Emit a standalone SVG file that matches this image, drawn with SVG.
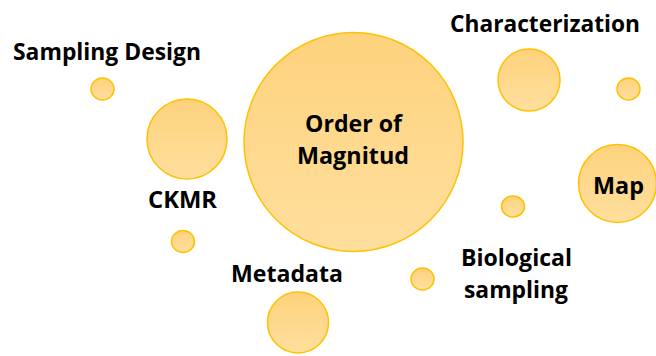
<svg xmlns="http://www.w3.org/2000/svg" width="656" height="356" viewBox="0 0 656 356">
<defs>
<linearGradient id="g" x1="0" y1="0" x2="0" y2="1">
<stop offset="0" stop-color="#FDD27C"/>
<stop offset="1" stop-color="#FFDF9E"/>
</linearGradient>
<style>
.b{fill:url(#g);stroke:#FFC000;stroke-width:1.5}
.t{font-family:"Open Sans","Liberation Sans",sans-serif;font-weight:700;font-size:24px;fill:#000;text-anchor:middle;font-variant-ligatures:none}
</style>
</defs>
<rect width="656" height="356" fill="#fff"/>
<g id="connectors"/>
<g id="order"><circle class="b" cx="353.5" cy="142" r="109.5"/>
<text class="t" x="353.5" y="132" textLength="97" lengthAdjust="spacingAndGlyphs">Order of</text>
<text class="t" x="353" y="164" textLength="112" lengthAdjust="spacingAndGlyphs">Magnitud</text></g>
<g id="characterization"><circle class="b" cx="529" cy="80" r="31"/>
<text class="t" x="545" y="32" textLength="190" lengthAdjust="spacingAndGlyphs">Characterization</text></g>
<g id="dot1"><ellipse class="b" cx="628.5" cy="89" rx="11.5" ry="11"/></g>
<g id="map"><circle class="b" cx="617.5" cy="183.5" r="39"/>
<text class="t" x="618.5" y="194" textLength="51" lengthAdjust="spacingAndGlyphs">Map</text></g>
<g id="dot2"><ellipse class="b" cx="513" cy="206.5" rx="11.5" ry="10.5"/></g>
<g id="sampling-design"><ellipse class="b" cx="102.5" cy="89" rx="11.5" ry="11"/>
<text class="t" x="107" y="60" textLength="188" lengthAdjust="spacingAndGlyphs">Sampling Design</text></g>
<g id="ckmr"><circle class="b" cx="187" cy="139" r="40"/>
<text class="t" x="182.5" y="208" textLength="69" lengthAdjust="spacingAndGlyphs">CKMR</text></g>
<g id="dot3"><ellipse class="b" cx="183" cy="241.5" rx="11.5" ry="11"/></g>
<g id="metadata"><circle class="b" cx="298" cy="322.5" r="30.5"/>
<text class="t" x="287" y="282" textLength="112" lengthAdjust="spacingAndGlyphs">Metadata</text></g>
<g id="biological"><ellipse class="b" cx="422.5" cy="279" rx="11.5" ry="11"/>
<text class="t" x="516.5" y="266" textLength="111" lengthAdjust="spacingAndGlyphs">Biological</text>
<text class="t" x="516" y="298" textLength="104" lengthAdjust="spacingAndGlyphs">sampling</text></g>
</svg>
